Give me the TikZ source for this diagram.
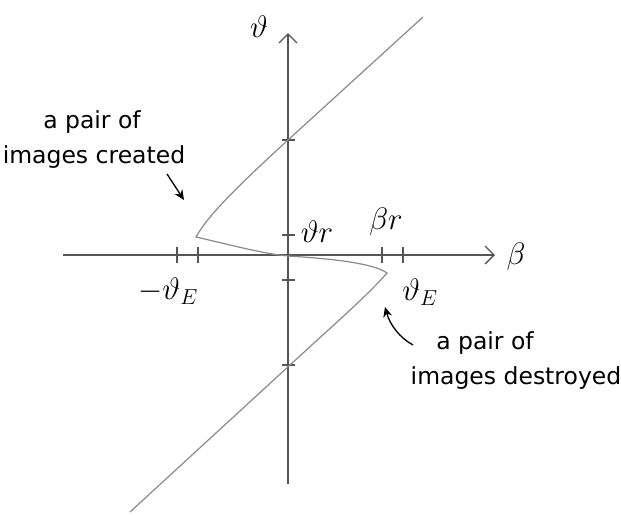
\RequirePackage{fix-cm}
\documentclass[tikz,border=0pt]{standalone}
\usepackage{fontspec}
\setmainfont{DejaVu Sans}
\usetikzlibrary{arrows.meta}
\definecolor{axisgray}{HTML}{555555}
\definecolor{curvegray}{HTML}{8A8A8A}
\tikzset{
  axisline/.style={draw=axisgray, line width=1.3pt},
  curveline/.style={draw=curvegray, line width=1.2pt},
  tickmark/.style={draw=axisgray, line width=1.4pt},
  lbl/.style={font=\fontsize{31}{34}\selectfont, text=black, inner sep=0pt},
  note/.style={font=\fontsize{23.5}{27}\selectfont, text=black, inner sep=0pt, align=left},
  pointer/.style={draw=black, line width=1.3pt, -{Stealth[length=10pt,width=9pt]}}
}
\begin{document}
\begin{tikzpicture}[x=1pt,y=-1pt]
\useasboundingbox (0,0) rectangle (621,515);
% axes
\coordinate (hstart) at (63,255);
\coordinate (hend) at (495,255);
\coordinate (vstart) at (288,484);
\coordinate (vend) at (288,33);
\draw[axisline, -{Straight Barb[length=9pt,width=18pt]}] (hstart) -- (hend);
\draw[axisline, -{Straight Barb[length=9pt,width=18pt]}] (vstart) -- (vend);
\node[lbl] (beta) at (516,257) {$\beta$};
\node[lbl] (theta) at (259,27) {$\vartheta$};
% ticks on vertical axis
\foreach \yy/\nm in {140/ta,235/tb,280/tc,365/td}{
  \coordinate (\nm1) at (282,\yy);
  \coordinate (\nm2) at (295,\yy);
  \draw[tickmark] (\nm1) -- (\nm2);
}
% ticks on horizontal axis
\foreach \xx/\nm in {177/ha,198/hb,382/hc,403/hd}{
  \coordinate (\nm1) at (\xx,247);
  \coordinate (\nm2) at (\xx,263);
  \draw[tickmark] (\nm1) -- (\nm2);
}
% labels
\node[lbl] (thr) at (317,232) {$\vartheta r$};
\node[lbl] (br) at (386,222) {$\beta r$};
\node[lbl] (mthE) at (168,291) {$-\vartheta_E$};
\node[lbl] (thE) at (420,292) {$\vartheta_E$};
% curve
\coordinate (top) at (423,17);
\coordinate (cup) at (288,140);
\coordinate (lbend) at (196,237);
\coordinate (orig) at (288,256);
\coordinate (rbend) at (387,273);
\coordinate (cdown) at (290,365);
\coordinate (bot) at (130,512);
\draw[curveline] (top) -- (cup) .. controls (240,184) and (208,215) .. (lbend)
  .. controls (235,246) and (265,254) .. (orig)
  .. controls (320,258) and (372,262) .. (rbend)
  .. controls (365,298) and (330,328) .. (cdown) -- (bot);
% notes
\node[note] (n1a) at (92,122) {a pair of};
\node[note] (n1b) at (94,157) {images created};
\node[note] (n2a) at (485,343) {a pair of};
\node[note] (n2b) at (516,378) {images destroyed};
\coordinate (a1s) at (167,174);
\coordinate (a1e) at (184,200);
\draw[pointer] (a1s) -- (a1e);
\coordinate (a2s) at (413,345);
\coordinate (a2e) at (385,307);
\draw[pointer] (a2s) .. controls (400,338) and (390,325) .. (a2e);
\end{tikzpicture}
\end{document}
